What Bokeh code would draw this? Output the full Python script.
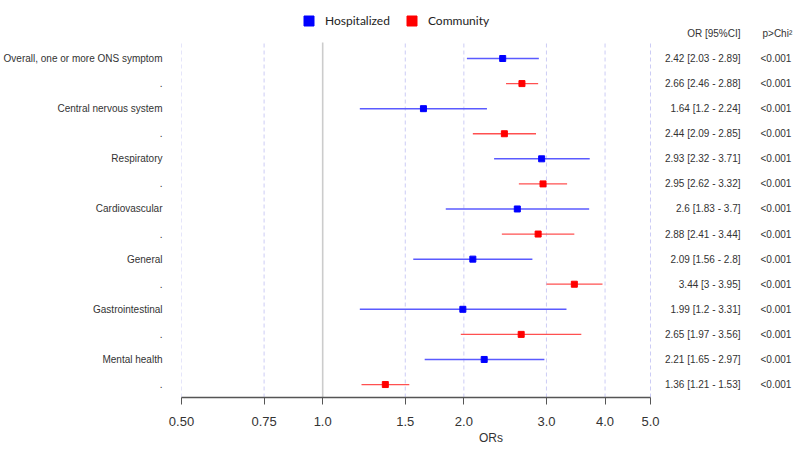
from bokeh.plotting import figure
from bokeh.models import ColumnDataSource, Range1d, FixedTicker, Legend, LegendItem
from bokeh.core.properties import value
from bokeh.embed import file_html
from bokeh.resources import INLINE

# ---------------- data ----------------
categories = ["Overall, one or more ONS symptom", "Central nervous system", "Respiratory",
              "Cardiovascular", "General", "Gastrointestinal", "Mental health"]
hosp_or = [2.42, 1.64, 2.93, 2.6, 2.09, 1.99, 2.21]
hosp_lo = [2.03, 1.2, 2.32, 1.83, 1.56, 1.2, 1.65]
hosp_hi = [2.89, 2.24, 3.71, 3.7, 2.8, 3.31, 2.97]
comm_or = [2.66, 2.44, 2.95, 2.88, 3.44, 2.65, 1.36]
comm_lo = [2.46, 2.09, 2.62, 2.41, 3.0, 1.97, 1.21]
comm_hi = [2.88, 2.85, 3.32, 3.44, 3.95, 3.56, 1.53]
hosp_p = ["<0.001"] * 7
comm_p = ["<0.001"] * 7
tick_values = [0.5, 0.75, 1.0, 1.5, 2.0, 3.0, 4.0, 5.0]
tick_labels = ["0.50", "0.75", "1.0", "1.5", "2.0", "3.0", "4.0", "5.0"]
grid_values = [0.5, 0.75, 1.5, 2.0, 3.0, 4.0, 5.0]
series_names = ["Hospitalized", "Community"]
header_or = "OR [95%CI]"
header_p = "p>Chi²"

# ---------------- layout constants (page pixels) ----------------
W, H = 800, 450
FRAME_LEFT = 181          # px where OR=0.5 sits
AXIS_PX = 469             # px from 0.5 to 5.0 (one decade)
X0 = 0.5
X_END = X0 * 10 ** ((W - FRAME_LEFT) / AXIS_PX)
ROW_PX = 25.08
ROW1_PX = 58.0
FRAME_H = 397
n_rows = 2 * len(categories)
y_end = 1 - ROW1_PX / ROW_PX
y_start = n_rows + (FRAME_H - (ROW1_PX + (n_rows - 1) * ROW_PX)) / ROW_PX
grid_top = 1 - (ROW1_PX - 42) / ROW_PX
header_y = 1 - (ROW1_PX - 33) / ROW_PX


def px_to_x(px):
    return X0 * 10 ** ((px - FRAME_LEFT) / AXIS_PX)


def fmt(v):
    return f"{v:g}"


hosp_rows = [2 * i + 1 for i in range(len(categories))]
comm_rows = [2 * i + 2 for i in range(len(categories))]

src_h = ColumnDataSource(dict(
    y=hosp_rows, orv=hosp_or, lo=hosp_lo, hi=hosp_hi,
    txt=[f"{fmt(a)} [{fmt(b)} - {fmt(c)}]" for a, b, c in zip(hosp_or, hosp_lo, hosp_hi)],
    p=hosp_p))
src_c = ColumnDataSource(dict(
    y=comm_rows, orv=comm_or, lo=comm_lo, hi=comm_hi,
    txt=[f"{fmt(a)} [{fmt(b)} - {fmt(c)}]" for a, b, c in zip(comm_or, comm_lo, comm_hi)],
    p=comm_p))

p = figure(width=W, height=H, x_axis_type="log",
           x_range=Range1d(X0, X_END), y_range=Range1d(y_start, y_end),
           output_backend="svg", toolbar_location=None,
           min_border_left=FRAME_LEFT, min_border_right=0,
           min_border_top=0, min_border_bottom=H - FRAME_H)
p.outline_line_color = None
p.xgrid.visible = False
p.ygrid.visible = False

# grid lines
p.segment(x0=grid_values, x1=grid_values, y0=[y_start] * len(grid_values),
          y1=[grid_top] * len(grid_values), line_color="#CCCCF5", line_dash="4 3", line_width=1)
p.segment(x0=[1.0], x1=[1.0], y0=[y_start], y1=[grid_top], line_color="#CCCCCC", line_width=1.6)

# whiskers and points
p.segment(x0="lo", x1="hi", y0="y", y1="y", source=src_h, line_color="#5A5AFF", line_width=1.5)
p.segment(x0="lo", x1="hi", y0="y", y1="y", source=src_c, line_color="#FF5050", line_width=1.3)
r_h = p.scatter(x="orv", y="y", source=src_h, marker="square", size=6, fill_color="#0000FF", line_color="#0000FF")
r_c = p.scatter(x="orv", y="y", source=src_c, marker="square", size=6, fill_color="#FF0000", line_color="#FF0000")

# right-side text
font = value("Liberation Sans")
tcol = "#333333"
for src in (src_h, src_c):
    p.text(x=px_to_x(740), y="y", text="txt", source=src, text_align="right", text_baseline="middle",
           text_font=font, text_font_size="10px", text_color=tcol)
    p.text(x=px_to_x(760), y="y", text="p", source=src, text_align="left", text_baseline="middle",
           text_font=font, text_font_size="10px", text_color=tcol)
p.text(x=[px_to_x(740)], y=[header_y], text=[header_or], text_align="right", text_baseline="middle",
       text_font=font, text_font_size="10px", text_color=tcol)
p.text(x=[px_to_x(762)], y=[header_y], text=[header_p], text_align="left", text_baseline="middle",
       text_font=font, text_font_size="10px", text_color=tcol)

# x axis
xa = p.xaxis[0]
xa.ticker = FixedTicker(ticks=tick_values, minor_ticks=[])
xa.major_label_overrides = {v: l for v, l in zip(tick_values, tick_labels)}
xa.bounds = (tick_values[0], tick_values[-1])
xa.axis_line_color = "#555555"
xa.axis_line_width = 1.5
xa.major_tick_line_color = "#555555"
xa.major_tick_out = 7
xa.major_tick_in = 0
xa.minor_tick_line_color = None
xa.major_label_text_font = "Liberation Sans"
xa.major_label_text_font_size = "13px"
xa.major_label_text_color = tcol
xa.major_label_standoff = 12
xa.axis_label = "ORs"
xa.axis_label_text_font = "Liberation Sans"
xa.axis_label_text_font_size = "12px"
xa.axis_label_text_font_style = "normal"
xa.axis_label_text_color = tcol
xa.axis_label_standoff = 2

# y axis (row labels)
ya = p.yaxis[0]
ya.ticker = FixedTicker(ticks=list(range(1, n_rows + 1)), minor_ticks=[])
labels = {}
for i, c in enumerate(categories):
    labels[hosp_rows[i]] = c
    labels[comm_rows[i]] = "."
ya.major_label_overrides = labels
ya.axis_line_color = None
ya.major_tick_line_color = None
ya.minor_tick_line_color = None
ya.major_label_standoff = 13
ya.major_label_text_font = "Liberation Sans"
ya.major_label_text_font_size = "10px"
ya.major_label_text_color = tcol

legend = Legend(items=[LegendItem(label=series_names[0], renderers=[r_h]),
                       LegendItem(label=series_names[1], renderers=[r_c])],
                orientation="horizontal", location=(115, FRAME_H - 33),
                glyph_width=25, glyph_height=25, label_standoff=4, spacing=9,
                padding=0, margin=0, border_line_color=None, background_fill_alpha=0,
                label_text_font="Lato", label_text_font_size="12px", label_text_color="#222222")
p.add_layout(legend)

open("out.html", "w").write(file_html(p, INLINE))
